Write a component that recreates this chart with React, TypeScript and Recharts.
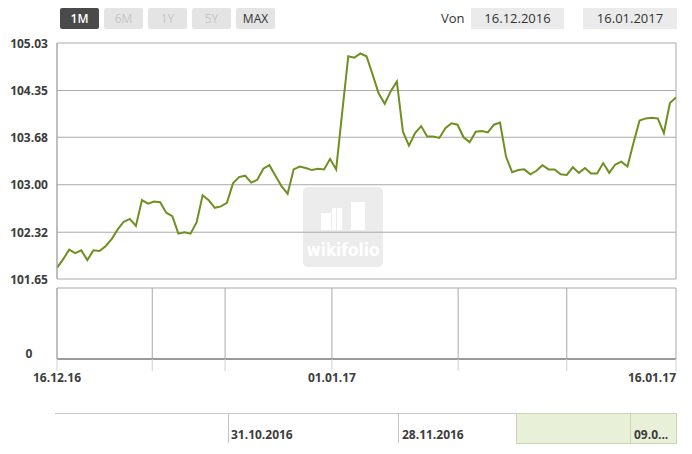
import React from 'react';
import { LineChart, Line, XAxis, YAxis, CartesianGrid, ReferenceLine } from 'recharts';

// ---- data ----
const priceValues: number[] = [
  101.81, 101.93, 102.07, 102.02, 102.06, 101.92, 102.06, 102.05, 102.12, 102.22,
  102.36, 102.47, 102.51, 102.41, 102.78, 102.73, 102.76, 102.75, 102.60, 102.55,
  102.30, 102.32, 102.30, 102.46, 102.85, 102.78, 102.67, 102.69, 102.74, 103.02,
  103.11, 103.13, 103.03, 103.07, 103.23, 103.28, 103.13, 102.98, 102.87, 103.22,
  103.26, 103.24, 103.21, 103.23, 103.22, 103.37, 103.22, 104.04, 104.84, 104.82,
  104.88, 104.84, 104.58, 104.31, 104.16, 104.34, 104.48, 103.76, 103.56, 103.74,
  103.84, 103.69, 103.69, 103.67, 103.81, 103.88, 103.86, 103.68, 103.61, 103.76,
  103.77, 103.75, 103.86, 103.89, 103.40, 103.18, 103.21, 103.22, 103.15, 103.20,
  103.28, 103.22, 103.22, 103.15, 103.14, 103.25, 103.17, 103.24, 103.16, 103.16,
  103.31, 103.17, 103.29, 103.33, 103.26, 103.60, 103.92, 103.95, 103.96, 103.95,
  103.74, 104.17, 104.25,
];
const yTicks: number[] = [101.65, 102.32, 103.0, 103.68, 104.35, 105.03];
const volumeTicks: number[] = [0, 1];
const volumeZeroLabel = '0';
const xGridPositions: number[] = [0, 15.7, 27.7, 45.3, 66.1, 84.0, 102];
const xTickLabels: string[] = ['16.12.16', '', '', '01.01.17', '', '', '16.01.17'];
const rangeButtons: string[] = ['1M', '6M', '1Y', '5Y', 'MAX'];
const activeRange = '1M';
const enabledRanges: string[] = ['1M', 'MAX'];
const fromLabel = 'Von';
const dateFrom = '16.12.2016';
const dateTo = '16.01.2017';
const navigatorLabels: string[] = ['31.10.2016', '28.11.2016', '09.0...'];
const watermarkText = 'wikifolio';

const data = priceValues.map((v, i) => ({ i, v }));
const lastIndex = priceValues.length - 1;

const FONT = '"Open Sans", sans-serif';
const GRID = '#a9a9a9';
const LINE = '#6f8f22';
const LABEL = '#3c3c3c';

const YTick = (props: any) => {
  const { x, y, payload } = props;
  return (
    <text x={x - 20} y={y} textAnchor="middle" dominantBaseline="central"
      fontFamily={FONT} fontWeight={700} fontSize={12} fill={LABEL}>
      {Number(payload.value).toFixed(2)}
    </text>
  );
};

const XTick = (props: any) => {
  const { x, y, payload } = props;
  const idx = xGridPositions.indexOf(payload.value);
  const label = idx >= 0 ? xTickLabels[idx] : '';
  const anchor = payload.value >= lastIndex ? 'end' : 'middle';
  return (
    <text x={x} y={y + 4} textAnchor={anchor} dominantBaseline="central"
      fontFamily={FONT} fontWeight={700} fontSize={12} fill={LABEL}>
      {label}
    </text>
  );
};

const ZeroLabel = (props: any) => {
  const vb = props.viewBox || {};
  return (
    <text x={vb.x - 28} y={vb.y - 6} textAnchor="middle" dominantBaseline="central"
      fontFamily={FONT} fontWeight={700} fontSize={12} fill={LABEL}>
      {volumeZeroLabel}
    </text>
  );
};

export default function App() {
  return (
    <div style={{ position: 'relative', width: 692, height: 454, background: '#fff', fontFamily: FONT, overflow: 'hidden' }}>
      <style>{'body{margin:0;}'}</style>

      {/* range buttons */}
      {rangeButtons.map((b, k) => {
        const active = b === activeRange;
        const enabled = enabledRanges.includes(b);
        return (
          <div key={b} style={{
            position: 'absolute', left: 60 + k * 44, top: 8, width: 39, height: 21,
            borderRadius: 2, background: active ? '#4a4a4a' : '#e4e4e4',
            color: active ? '#ffffff' : enabled ? '#333333' : '#c6c6c6',
            fontSize: 12, fontWeight: active ? 600 : 400, lineHeight: '21px', textAlign: 'center',
          }}>{b}</div>
        );
      })}

      {/* date range */}
      <div style={{ position: 'absolute', left: 441, top: 8, height: 21, lineHeight: '21px', fontSize: 13, color: '#333' }}>{fromLabel}</div>
      <div style={{ position: 'absolute', left: 471, top: 8, width: 93, height: 21, lineHeight: '21px', fontSize: 13, color: '#333', background: '#ebebeb', textAlign: 'center' }}>{dateFrom}</div>
      <div style={{ position: 'absolute', left: 583, top: 8, width: 94, height: 21, lineHeight: '21px', fontSize: 13, color: '#333', background: '#ebebeb', textAlign: 'center' }}>{dateTo}</div>

      {/* watermark */}
      <div style={{ position: 'absolute', left: 303, top: 187, width: 80, height: 80, borderRadius: 5, background: '#ececec' }}>
        <svg width={80} height={80}>
          <rect x={18} y={26} width={10} height={17} fill="#fff" />
          <rect x={29} y={21} width={4} height={22} fill="#fff" />
          <rect x={34} y={21} width={5} height={22} fill="#fff" />
          <rect x={48} y={15} width={14} height={28} fill="#fff" />
        </svg>
        <div style={{ position: 'absolute', left: 0, top: 53, width: 80, textAlign: 'center', color: '#fff',
          fontFamily: '"DejaVu Sans Condensed", "Open Sans", sans-serif', fontWeight: 700, fontSize: 17, lineHeight: '20px' }}>
          {watermarkText}
        </div>
      </div>

      {/* main price chart */}
      <div style={{ position: 'absolute', left: 0, top: 0 }}>
        <LineChart width={692} height={290} data={data} margin={{ top: 43, right: 16, bottom: 0, left: 0 }}>
          <CartesianGrid stroke={GRID} strokeWidth={1} />
          <XAxis dataKey="i" type="number" domain={[0, lastIndex]} ticks={xGridPositions}
            height={11} tick={false} axisLine={false} tickLine={false} allowDataOverflow />
          <YAxis type="number" domain={[yTicks[0], yTicks[yTicks.length - 1]]} ticks={yTicks}
            width={57} tick={<YTick />} axisLine={{ stroke: GRID }} tickLine={false} interval={0} allowDataOverflow />
          <Line type="linear" dataKey="v" stroke={LINE} strokeWidth={2} dot={false}
            activeDot={false} isAnimationActive={false} />
        </LineChart>
      </div>

      {/* lower (volume) panel with x axis */}
      <div style={{ position: 'absolute', left: 0, top: 280 }}>
        <LineChart width={692} height={110} data={data} margin={{ top: 8, right: 16, bottom: 0, left: 0 }}>
          <CartesianGrid stroke={GRID} strokeWidth={1} />
          <XAxis dataKey="i" type="number" domain={[0, lastIndex]} ticks={xGridPositions}
            height={31} tick={<XTick />} interval={0} tickSize={12} tickMargin={2}
            axisLine={{ stroke: '#9a9a9a', strokeWidth: 2 }} tickLine={{ stroke: '#d0d0d0' }} />
          <YAxis type="number" domain={[0, 1]} ticks={volumeTicks} width={57}
            tick={false} axisLine={{ stroke: GRID }} tickLine={false} interval={0} allowDataOverflow />
          <ReferenceLine y={volumeTicks[0]} stroke="none" label={<ZeroLabel />} ifOverflow="visible" />
        </LineChart>
      </div>

      {/* navigator */}
      <div style={{ position: 'absolute', left: 55, top: 413, width: 621, height: 1, background: '#c8c8c8' }} />
      <div style={{ position: 'absolute', left: 228, top: 413, width: 1, height: 30, background: '#c4c4c4' }} />
      <div style={{ position: 'absolute', left: 398, top: 413, width: 1, height: 30, background: '#c4c4c4' }} />
      <div style={{ position: 'absolute', left: 516, top: 413, width: 159, height: 29, background: '#e8f1d7', border: '1px solid #c9d6b2' }} />
      <div style={{ position: 'absolute', left: 630, top: 413, width: 1, height: 30, background: '#c9d6b2' }} />
      <div style={{ position: 'absolute', left: 231, top: 426, fontSize: 12, fontWeight: 700, color: LABEL }}>{navigatorLabels[0]}</div>
      <div style={{ position: 'absolute', left: 402, top: 426, fontSize: 12, fontWeight: 700, color: LABEL }}>{navigatorLabels[1]}</div>
      <div style={{ position: 'absolute', left: 634, top: 426, fontSize: 12, fontWeight: 700, color: LABEL }}>{navigatorLabels[2]}</div>
    </div>
  );
}
